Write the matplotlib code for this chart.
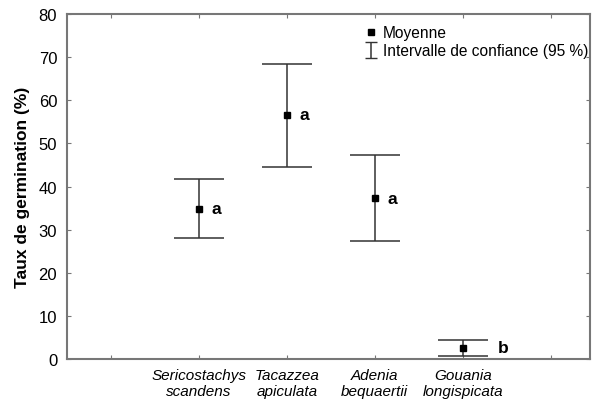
import matplotlib.pyplot as plt
from matplotlib.lines import Line2D

plt.rcParams['font.family'] = ['Liberation Sans', 'DejaVu Sans']

especes = ['Sericostachys\nscandens', 'Tacazzea\napiculata',
           'Adenia\nbequaertii', 'Gouania\nlongispicata']
moyenne = [34.9, 56.6, 37.3, 2.6]
ic_haut = [41.8, 68.5, 47.3, 4.5]
ic_bas = [28.1, 44.6, 27.4, 0.8]
groupes = ['a', 'a', 'a', 'b']

pos = [1, 2, 3, 4]
err_bas = [m - b for m, b in zip(moyenne, ic_bas)]
err_haut = [h - m for m, h in zip(moyenne, ic_haut)]

fig = plt.figure(figsize=(5.92, 4.14), dpi=100)
ax = fig.add_axes([0.113, 0.130, 0.884, 0.834])

ax.errorbar(pos, moyenne, yerr=[err_bas, err_haut], fmt='none',
            ecolor='#333333', elinewidth=1.1, capsize=18, capthick=1.1)
ax.plot(pos, moyenne, 's', color='black', markersize=5)
for x, y, g, h in zip(pos, moyenne, groupes, ic_haut):
    # quand l'intervalle est court, la lettre passe à droite des barres
    dx = 0.14 if h - y > 3 else 0.4
    ax.text(x + dx, y, g, fontsize=12.5, fontweight='bold', va='center', ha='left')

ax.set_xlim(-0.5, 5.45)
ax.set_ylim(0, 80)
ax.set_yticks(range(0, 81, 10))
ax.set_xticks(range(6))
ax.set_xticklabels([''] + especes + [''], fontsize=11, style='italic')
ax.tick_params(axis='y', labelsize=12, direction='in', length=3, right=True,
               color='#777777', pad=7)
ax.tick_params(axis='x', direction='in', length=3, top=True, color='#777777', pad=6)
for s in ax.spines.values():
    s.set_color('#777777')
    s.set_linewidth(1.5)

ax.set_ylabel('Taux de germination (%)', fontsize=12.5, fontweight='bold', labelpad=6)

# légende : carré = moyenne, barre = intervalle de confiance
h_moy = Line2D([], [], marker='s', color='black', ls='none', markersize=5)
h_ic = ax.errorbar([float('nan')], [float('nan')], yerr=[1], fmt='none',
                   ecolor='#333333', capsize=4, elinewidth=1.1)
ax.legend([h_moy, h_ic], ['Moyenne', 'Intervalle de confiance (95 %)'],
          loc='upper left', bbox_to_anchor=(0.545, 1.0), frameon=False,
          fontsize=11.2, handlelength=1.0, handleheight=0.5, handletextpad=0.3,
          labelspacing=0.2, borderpad=0.2)

fig.savefig('out.png', dpi=100)
